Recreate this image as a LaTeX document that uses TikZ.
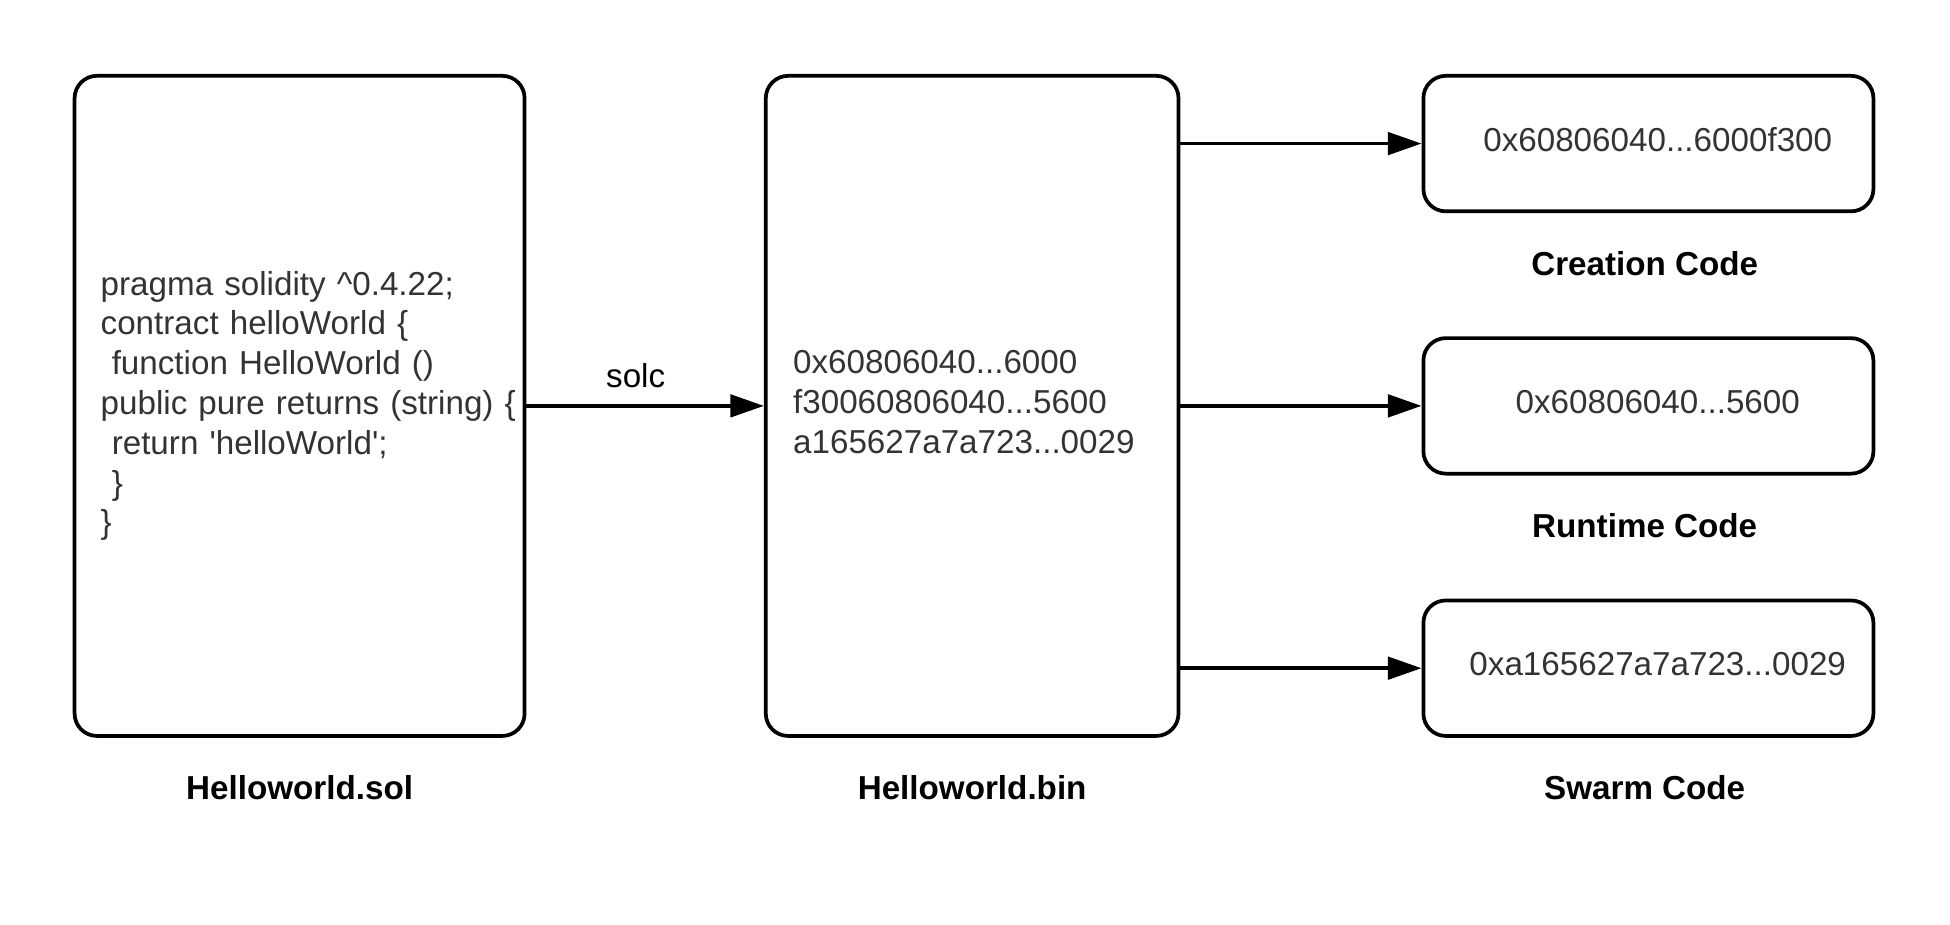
\documentclass[tikz,border=0pt]{standalone}
\usepackage{fontspec}
\setmainfont{Liberation Sans}
\usetikzlibrary{arrows.meta,positioning}
\definecolor{codegray}{HTML}{333333}
\begin{document}
\begin{tikzpicture}[x=0.5pt,y=-0.5pt,
  box/.style={draw, line width=1.5pt, rounded corners=9pt, text=codegray, font=\fontsize{13.35}{16}\selectfont},
  part/.style={box, minimum width=181pt, minimum height=54.5pt, text depth=3.5pt, execute at begin node=\hspace*{7.5pt}},
  flow/.style={line width=1.5pt, -{Triangle[length=13.5pt,width=9pt]}},
  lbl/.style={font=\fontsize{13.35}{16}\selectfont},
  caption/.style={font=\fontsize{13.35}{16}\selectfont\bfseries, inner sep=0pt}]
\useasboundingbox (0,0) rectangle (1568.6,743.3);
% source and compiled file
\node[box, minimum height=265.5pt, text width=160pt, inner xsep=10.5pt, align=left] (sol) at (241,326.5){pragma solidity \textasciicircum0.4.22;\\
contract helloWorld \{\\
\mbox{}\ function HelloWorld ()\\
\mbox{public pure returns (string) \{}\\
\mbox{}\ return \textquotesingle helloWorld\textquotesingle;\\
\mbox{}\ \}\\
\}};
\node[box, minimum height=265.5pt, text width=144pt, inner xsep=11pt, align=left] (bin) at (782,326.5){0x60806040...6000\\
f30060806040...5600\\
a165627a7a723...0029\par\vspace*{3pt}};
\node[caption, below=15pt of sol] (solname){Helloworld.sol};
\node[caption, below=15pt of bin] (binname){Helloworld.bin};
\draw[flow](sol) -- (bin) node[lbl, pos=0.46, above=3pt]{solc};
% the three parts
\node[part] (crt) at (1326,115.5){0x60806040...6000f300};
\node[part] (rtm) at (1326,326.5){0x60806040...5600};
\node[part] (swm) at (1326,537.5){0xa165627a7a723...0029};
\node[caption, below=15pt of crt, xshift=-1.5pt] (crtname){Creation Code};
\node[caption, below=15pt of rtm, xshift=-1.5pt] (rtmname){Runtime Code};
\node[caption, below=15pt of swm, xshift=-1.5pt] (swmname){Swarm Code};
\draw[flow](bin.east |- crt.west) -- (crt.west);
\draw[flow](bin) -- (rtm);
\draw[flow](bin.east |- swm.west) -- (swm.west);
\end{tikzpicture}
\end{document}
